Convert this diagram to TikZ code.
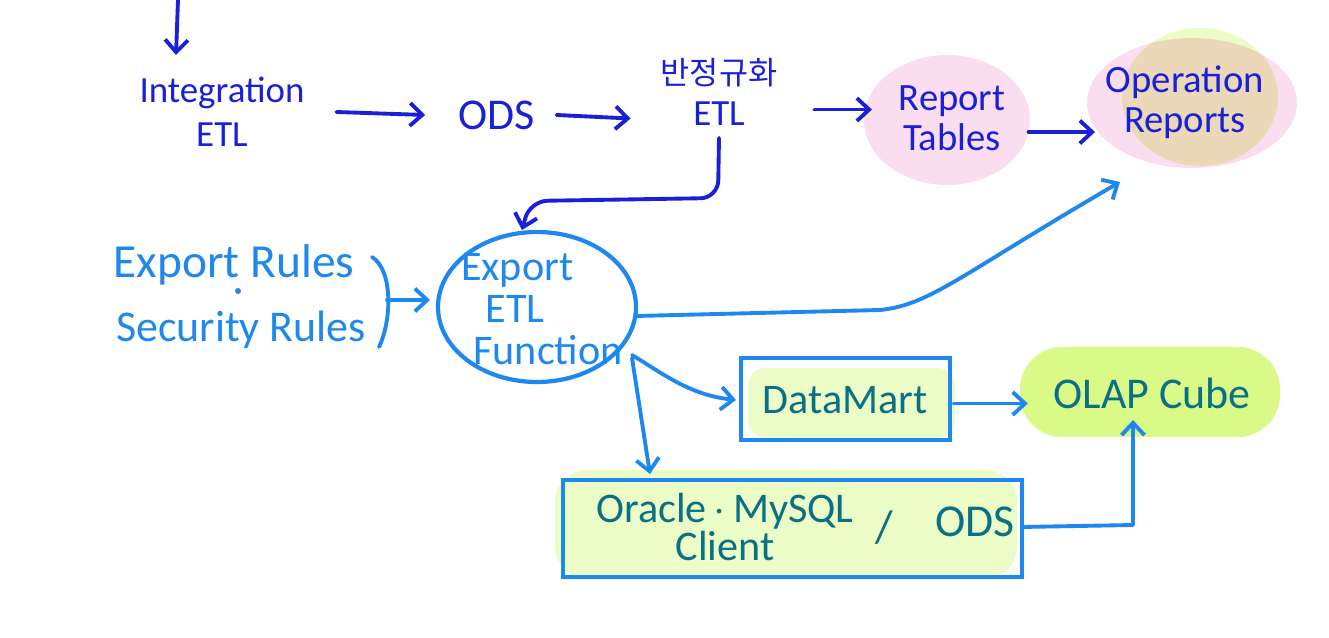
\documentclass[tikz,border=0pt]{standalone}
\usepackage{fontspec}
\setmainfont{Carlito}
\newfontfamily\kr{Noto Sans CJK KR}
\usetikzlibrary{arrows.meta,calc}
\definecolor{dblue}{HTML}{1A1FD8}
\definecolor{lblue}{HTML}{1E88EE}
\definecolor{tealtxt}{HTML}{0B6F86}
\definecolor{pinkf}{HTML}{FBDDF0}
\definecolor{limef}{HTML}{EBFCC6}
\definecolor{limes}{HTML}{DAFA88}
\definecolor{tanf}{HTML}{EAD8B8}
\tikzset{
  darr/.style={draw=dblue,line width=2.2pt,line cap=round,line join=round,-{Straight Barb[length=7pt,width=13pt,line width=2.2pt]}},
  larr/.style={draw=lblue,line width=2.2pt,line cap=round,line join=round,-{Straight Barb[length=7pt,width=13pt,line width=2.2pt]}},
  dtxt/.style={text=dblue,align=center,font=\fontsize{21}{25}\selectfont,inner sep=1pt},
  ltxt/.style={text=lblue,align=center,font=\fontsize{22}{24}\selectfont,inner sep=1pt},
  ttxt/.style={text=tealtxt,align=center,font=\fontsize{24}{26}\selectfont,inner sep=1pt},
  boxline/.style={draw=lblue,line width=2.6pt}
}
\begin{document}
\begin{tikzpicture}[x=0.02cm,y=-0.02cm]
\useasboundingbox (0,0) rectangle (1329,638);
\fill[white] (0,0) rectangle (1329,638);
% fills
\fill[pinkf] (947,120) ellipse [x radius=83, y radius=65];
\fill[pinkf] (1192,103) ellipse [x radius=105, y radius=65];
\fill[limef] (1200,97) ellipse [x radius=78, y radius=69];
\begin{scope}
  \clip (1192,103) ellipse [x radius=105, y radius=65];
  \fill[tanf] (1200,97) ellipse [x radius=78, y radius=69];
\end{scope}
\fill[limef, rounded corners=10pt] (748,368) rectangle (955,438);
\fill[limes, rounded corners=24pt] (1020,347) rectangle (1280,437);
\fill[limef, rounded corners=18pt] (555,470) rectangle (1017,578);
% boxes
\draw[boxline] (741,358) rectangle (950,440);
\draw[boxline] (563,480) rectangle (1022,577);
\draw[draw=lblue,line width=2.4pt] (537,307) ellipse [x radius=99, y radius=75];
% texts
\node[dtxt] (integ) at (222,112) {Integration\\ETL};
\node[dtxt,font=\fontsize{25}{27}\selectfont] (ods) at (497,115) {ODS};
\node[dtxt,font=\fontsize{21}{23}\selectfont] (denorm) at (719,92) {{\kr\fontsize{18}{20}\selectfont 반정규화}\\ETL};
\node[dtxt,font=\fontsize{22}{23}\selectfont] (rt) at (952,118) {Report\\Tables};
\node[dtxt,font=\fontsize{22}{23}\selectfont] (opr) at (1185,102) {Operation\\Reports};
\node[ltxt,font=\fontsize{27}{30}\selectfont] (exr) at (234,265) {Export Rules};
\node[ltxt,font=\fontsize{25}{30}\selectfont] (secr) at (241,330) {Security Rules};
\fill[lblue] (238,291) circle [radius=3];
\node[ltxt,align=left,anchor=west,font=\fontsize{24}{24}\selectfont] (expetl) at (459,309) {Export\\\hspace*{14pt}ETL\\\hspace*{7pt}Function};
\node[ttxt] (dm) at (845,400) {DataMart};
\node[ttxt,font=\fontsize{25}{27}\selectfont] (olap) at (1152,393) {OLAP Cube};
\node[ttxt,font=\fontsize{24}{22}\selectfont] (ora) at (725,527) {Oracle\,$\cdot$\,MySQL\\Client};
\node[ttxt,font=\fontsize{26}{28}\selectfont] (slash) at (884,528) {/};
\node[ttxt,font=\fontsize{26}{28}\selectfont] (ods2) at (975,522) {ODS};
% coordinates
\coordinate (top) at (178,0);
\coordinate (braceC) at (387,300);
\coordinate (etlbend) at (718,198);
\coordinate (expin) at (522,230);
\coordinate (olapin) at (1133,420);
\coordinate (dmin) at (736,400);
% connectors
\draw[darr] (top) -- ++(-2,55);
\draw[darr] ([xshift=17pt]integ.east) -- ([xshift=-18pt]ods.west);
\draw[darr] ([xshift=11pt]ods.east) -- ([xshift=-16pt,yshift=-2pt]denorm.west|-ods.west);
\draw[darr] ([xshift=20pt,yshift=-10pt]denorm.east) -- ([xshift=-14pt,yshift=-10pt]denorm.east -| rt.west);
\draw[darr] ([xshift=12pt,yshift=-8pt]rt.east) -- ([xshift=-5pt,yshift=-8pt]rt.east -| opr.west);
\draw[darr,rounded corners=10pt] ([yshift=-6pt]denorm.south) -- (etlbend) -- (530,201) -- (expin);
\draw[draw=lblue,line width=2.2pt,line cap=round] (372,257) .. controls (393,270) and (392,320) .. (379,347);
\draw[larr] (braceC) -- ++(43,0);
\draw[larr] (636,316) -- (880,310) .. controls (930,305) and (960,275) .. (1120,182);
\draw[larr] (632,355) .. controls (665,375) and (690,395) .. (dmin);
\draw[larr] (632,358) -- (650,474);
\draw[larr] (dm.east) ++(14pt,-2pt) -- ++(42pt,0);
\draw[larr] (1022,527) -- (1133,525) -- (olapin);
\end{tikzpicture}
\end{document}
